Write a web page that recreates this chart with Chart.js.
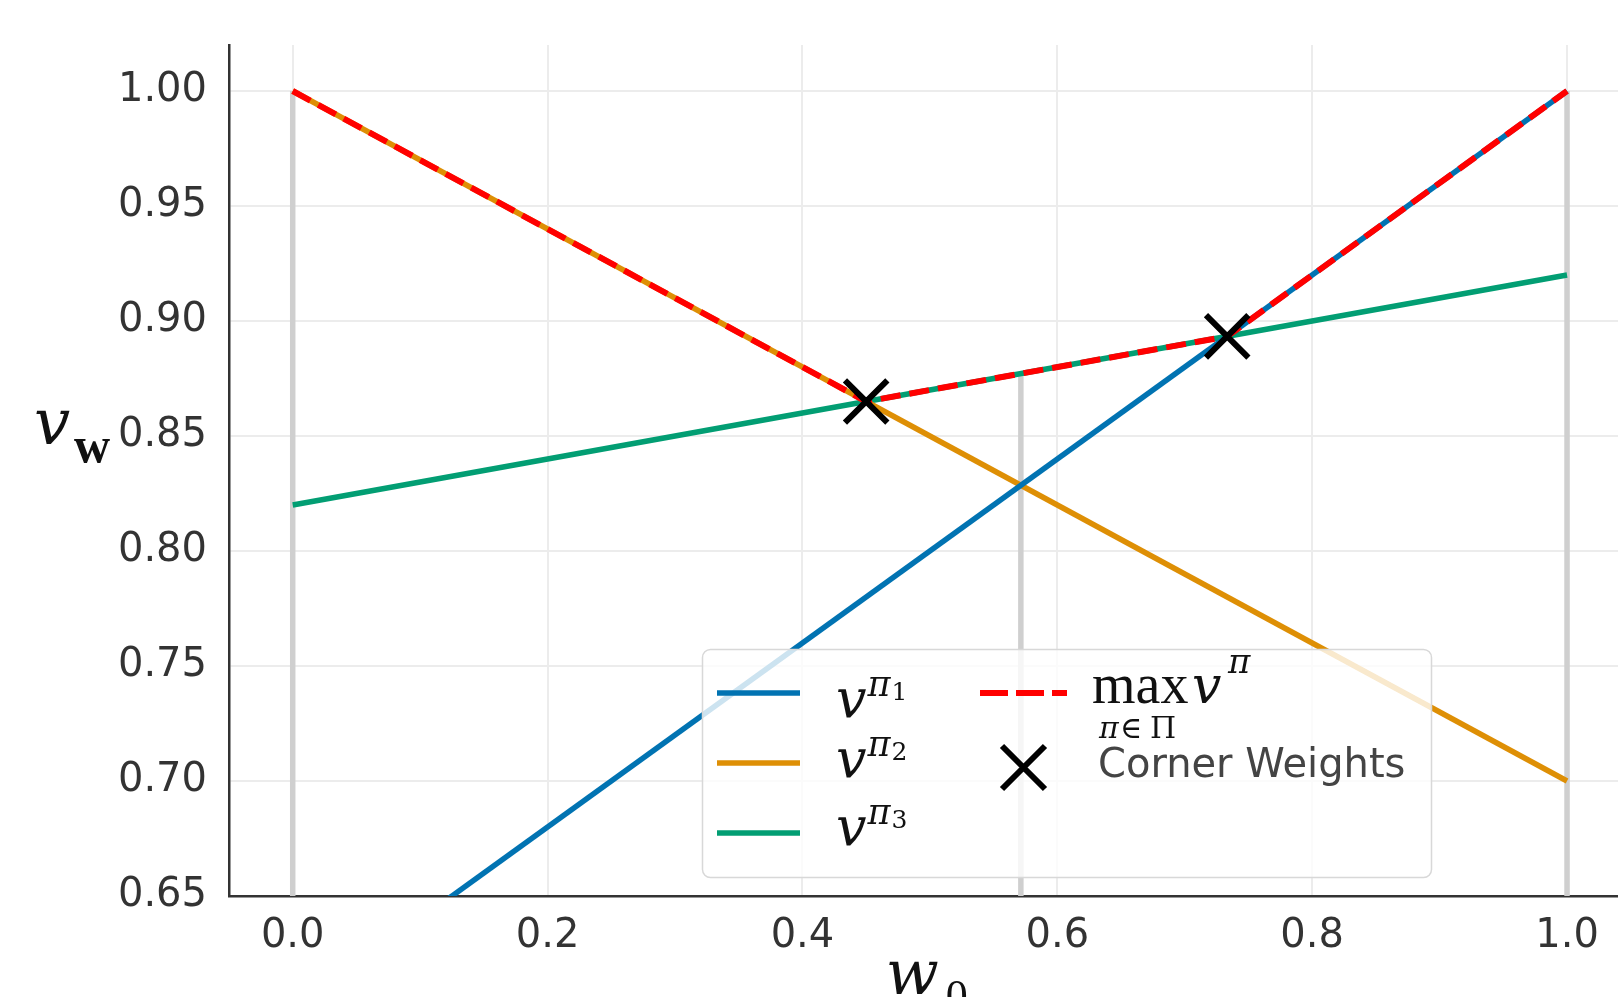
<!DOCTYPE html>
<html>
<head>
<meta charset="utf-8">
<script src="https://cdn.jsdelivr.net/npm/chart.js@4/dist/chart.umd.min.js"></script>
<style>
  html, body { margin: 0; padding: 0; background: #fff; overflow: hidden; }
  #wrap { position: relative; width: 1618px; height: 997px; }
</style>
</head>
<body>
<div id="wrap"><canvas id="chart"></canvas></div>
<script>
// values of each policy at the ends of the weight range w0 = 0 .. 1
const weights = [0, 1];
const valuesPi1 = [0.60, 1.00];
const valuesPi2 = [1.00, 0.70];
const valuesPi3 = [0.82, 0.92];
const policyIndex = ["1", "2", "3"];
const policyColors = ["#0173b2", "#de8f05", "#029e73"];

// upper envelope max_pi v^pi (breaks at the corner weights)
const maxWeights = [0, 0.45, 0.7333, 1];
const maxValues = [1.00, 0.865, 0.8933, 1.00];

// corner weights
const cornerWeights = [0.45, 0.7333];
const cornerValues = [0.865, 0.8933];

// grey vertical guides (weight, value at top)
const guideWeights = [0, 0.5714, 1];
const guideTops = [1.00, 0.8771, 1.00];

// axes
const xTicks = [0, 0.2, 0.4, 0.6, 0.8, 1.0];
const yTicks = [0.65, 0.70, 0.75, 0.80, 0.85, 0.90, 0.95, 1.00];
const yMin = 0.65, yMax = 1.02;
const xMin = -0.05, xMax = 1.04;

const tickFont = { family: "DejaVu Sans", size: 40 };
const serif = '"Liberation Serif", "DejaVu Serif", serif';
const mathSerif = '"DejaVu Serif", serif';

const toPoints = (xs, ys) => xs.map((x, i) => ({ x: x, y: ys[i] }));

const datasets = [];

// corner weight markers on top
datasets.push({
  label: "Corner Weights",
  data: toPoints(cornerWeights, cornerValues),
  showLine: false,
  pointStyle: "crossRot",
  pointRadius: 30,
  pointBorderWidth: 6,
  pointBorderColor: "#000",
  pointBackgroundColor: "#000",
  order: 0,
  clip: false
});

// red dashed envelope
datasets.push({
  label: "max",
  data: toPoints(maxWeights, maxValues),
  showLine: true,
  borderColor: "#ff0000",
  borderWidth: 6,
  borderDash: [20, 9],
  pointRadius: 0,
  order: 1,
  clip: 0
});

// policy lines
[valuesPi1, valuesPi2, valuesPi3].forEach((vals, i) => {
  datasets.push({
    label: "pi" + policyIndex[i],
    data: toPoints(weights, vals),
    showLine: true,
    borderColor: policyColors[i],
    borderWidth: 5.5,
    pointRadius: 0,
    order: 2,
    clip: 0
  });
});

// grey guides
guideWeights.forEach((w, i) => {
  datasets.push({
    label: "guide",
    data: toPoints([w, w], [yMin, guideTops[i]]),
    showLine: true,
    borderColor: "#cfcfcf",
    borderWidth: 5.5,
    pointRadius: 0,
    order: 3,
    clip: 0
  });
});

// draws v with a superscript pi and optional index
function drawV(ctx, x, base, sub, size) {
  ctx.font = "italic " + size + "px " + mathSerif;
  ctx.fillText("v", x, base);
  let px = x + ctx.measureText("v").width + 1;
  ctx.font = "italic " + Math.round(size * 0.64) + "px " + mathSerif;
  ctx.fillText("\u03c0", px, base - size * 0.38);
  if (sub) {
    px += ctx.measureText("\u03c0").width + 1;
    ctx.font = Math.round(size * 0.46) + "px " + mathSerif;
    ctx.fillText(sub, px, base - size * 0.32);
  }
}

const legendPlugin = {
  id: "mathLegend",
  afterDatasetsDraw(chart) {
    const ctx = chart.ctx;
    ctx.save();
    // box
    const bx = 702.5, by = 649.5, bw = 729, bh = 228;
    ctx.beginPath();
    if (ctx.roundRect) ctx.roundRect(bx, by, bw, bh, 8);
    else ctx.rect(bx, by, bw, bh);
    ctx.fillStyle = "rgba(255,255,255,0.8)";
    ctx.fill();
    ctx.lineWidth = 1.5;
    ctx.strokeStyle = "#d8d8d8";
    ctx.stroke();

    // left column: policies
    const rowY = [693, 763, 833];
    const textBase = [717, 777, 845];
    ctx.lineCap = "butt";
    policyIndex.forEach((p, i) => {
      ctx.beginPath();
      ctx.strokeStyle = policyColors[i];
      ctx.lineWidth = 5.5;
      ctx.moveTo(717, rowY[i]);
      ctx.lineTo(800, rowY[i]);
      ctx.stroke();
      ctx.fillStyle = "#111";
      drawV(ctx, 836, textBase[i], p, 54);
    });

    // right column: envelope
    ctx.beginPath();
    ctx.strokeStyle = "#ff0000";
    ctx.lineWidth = 6;
    ctx.setLineDash([28, 8]);
    ctx.moveTo(980, 693);
    ctx.lineTo(1067, 693);
    ctx.stroke();
    ctx.setLineDash([]);
    ctx.fillStyle = "#111";
    ctx.font = "56px " + serif;
    ctx.fillText("max", 1092, 703);
    ctx.font = "italic 52px " + mathSerif;
    ctx.fillText("v", 1192, 703);
    ctx.font = "italic 34px " + mathSerif;
    ctx.fillText("\u03c0", 1228, 673);
    ctx.font = "italic 30px " + mathSerif;
    ctx.fillText("\u03c0", 1099, 738);
    ctx.font = "30px " + mathSerif;
    ctx.fillText("\u2208", 1120, 738);
    ctx.fillText("\u03a0", 1150, 738);

    // corner weights marker
    ctx.beginPath();
    ctx.strokeStyle = "#000";
    ctx.lineWidth = 6;
    ctx.moveTo(1002, 746); ctx.lineTo(1045, 789);
    ctx.moveTo(1045, 746); ctx.lineTo(1002, 789);
    ctx.stroke();
    ctx.fillStyle = "#444";
    ctx.font = "40px \"DejaVu Sans\"";
    ctx.fillText("Corner Weights", 1098, 777);
    ctx.restore();
  },
  afterDraw(chart) {
    const ctx = chart.ctx;
    const xs = chart.scales.x, ys = chart.scales.y;
    ctx.save();
    ctx.fillStyle = "#111";
    // y title: v_w
    const yb = ys.getPixelForValue(0.85) + 8;
    ctx.font = "italic 64px " + mathSerif;
    ctx.fillText("v", 34, yb);
    ctx.font = "bold 50px " + serif;
    ctx.fillText("w", 74, yb + 18);
    // x title: w_0
    const xc = xs.getPixelForValue(0.5);
    ctx.font = "italic 62px " + mathSerif;
    ctx.fillText("w", xc - 44, 994);
    ctx.font = "44px " + serif;
    ctx.fillText("0", xc + 16, 1010);
    ctx.restore();
  }
};

new Chart(document.getElementById("chart"), {
  type: "scatter",
  data: { datasets: datasets },
  options: {
    responsive: true,
    maintainAspectRatio: false,
    animation: false,
    layout: { autoPadding: false, padding: { top: 45, right: 0, left: 0, bottom: 0 } },
    plugins: {
      legend: { display: false },
      tooltip: { enabled: false }
    },
    scales: {
      x: {
        type: "linear",
        min: xMin,
        max: xMax,
        afterBuildTicks: s => { s.ticks = xTicks.map(v => ({ value: v })); },
        afterFit: s => { s.height = 101; s.paddingLeft = 0; s.paddingRight = 0; },
        grid: { color: "#ececec", lineWidth: 2, drawTicks: false },
        border: { display: true, color: "#333", width: 2.5 },
        ticks: {
          padding: 17,
          color: "#333",
          font: tickFont,
          autoSkip: false,
          maxRotation: 0,
          callback: v => Number(v).toFixed(1)
        }
      },
      y: {
        type: "linear",
        min: yMin,
        max: yMax,
        afterBuildTicks: s => { s.ticks = yTicks.map(v => ({ value: v })); },
        afterFit: s => { s.width = 229; s.paddingTop = 0; s.paddingBottom = 0; },
        grid: { color: "#ececec", lineWidth: 2, drawTicks: false },
        border: { display: true, color: "#333", width: 2.5 },
        ticks: {
          padding: 22,
          color: "#333",
          font: tickFont,
          autoSkip: false,
          callback: v => Number(v).toFixed(2)
        }
      }
    }
  },
  plugins: [legendPlugin]
});
</script>
</body>
</html>
